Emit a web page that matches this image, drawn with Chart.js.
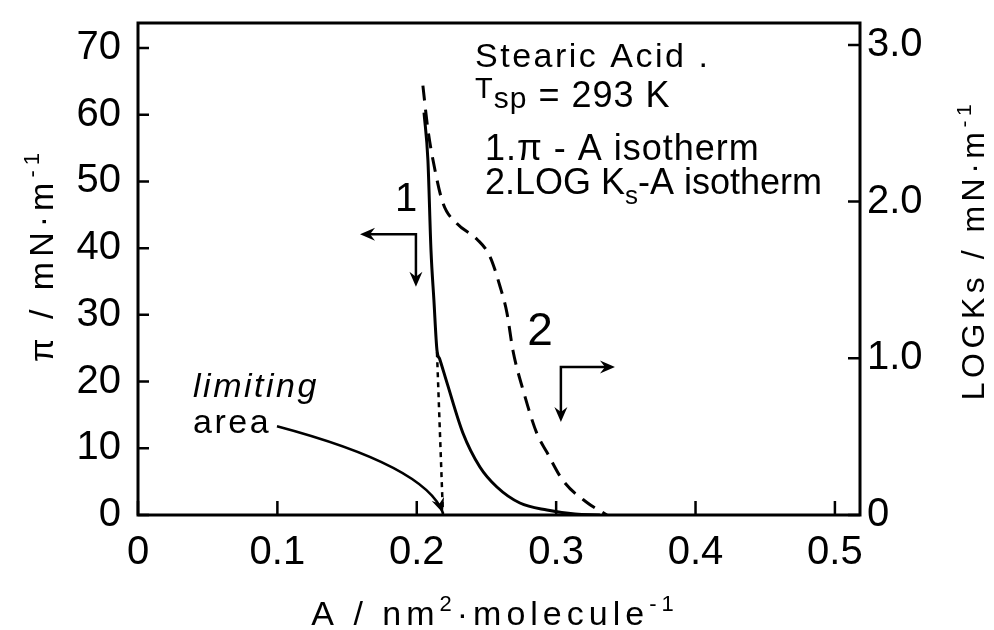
<!DOCTYPE html>
<html>
<head>
<meta charset="utf-8">
<script src="https://cdn.jsdelivr.net/npm/chart.js@4.4.1/dist/chart.umd.min.js"></script>
<style>
  html, body { margin: 0; padding: 0; background: #fff; }
  #wrap { width: 994px; height: 630px; }
</style>
</head>
<body>
<div id="wrap"><canvas id="isoChart" width="994" height="630"></canvas></div>
<script>
// Data
// curve 1: pi-A isotherm (left axis)
const areaPiA = [0.2052, 0.2080, 0.2102, 0.2123, 0.2145, 0.2165, 0.2217, 0.2331, 0.2453, 0.2575, 0.2740, 0.2934, 0.3135, 0.3314];
const surfacePressure = [60.3, 53.2, 39.7, 32.2, 24.7, 23.35, 19.8, 12.3, 7.2, 4.2, 1.8, 0.75, 0.15, 0];
// curve 2: log Ks-A isotherm (right axis)
const areaLogKs = [0.2044, 0.2080, 0.2131, 0.2188, 0.2288, 0.2432, 0.2525, 0.2597, 0.2647, 0.2690, 0.2762, 0.2862, 0.2934, 0.3049, 0.3221, 0.3364];
const logKs = [2.74, 2.46, 2.20, 1.99, 1.86, 1.76, 1.65, 1.46, 1.29, 1.05, 0.80, 0.52, 0.40, 0.22, 0.08, 0];
// extrapolation to the limiting area
const areaLimit = [0.2145, 0.2188];
const piLimit = [24.4, 0];

// Axis ticks
const areaTicks = [0, 0.1, 0.2, 0.3, 0.4, 0.5];
const areaTickLabels = ['0', '0.1', '0.2', '0.3', '0.4', '0.5'];
const piTicks = [0, 10, 20, 30, 40, 50, 60, 70];
const piTickLabels = ['0', '10', '20', '30', '40', '50', '60', '70'];
const logTicks = [0, 1, 2, 3];
const logTickLabels = ['0', '1.0', '2.0', '3.0'];

const FONT = "'Liberation Sans', Arial, sans-serif";

function toPoints(xs, ys) {
    return xs.map((x, i) => ({ x: x, y: ys[i] }));
}

function fontOf(p) {
    return (p[3] ? 'italic ' : '') + p[1] + 'px ' + FONT;
}

// text in pieces (for sub/superscripts): [text, size, dy, italic]
function richText(ctx, parts, x, y, align, spacing) {
    ctx.letterSpacing = (spacing || 0) + 'px';
    const widths = parts.map(p => { ctx.font = fontOf(p); return ctx.measureText(p[0]).width; });
    const total = widths.reduce((a, b) => a + b, 0);
    let cx = align === 'center' ? x - total / 2 : x;
    ctx.textAlign = 'left';
    ctx.textBaseline = 'alphabetic';
    parts.forEach((p, i) => {
        ctx.font = fontOf(p);
        ctx.fillText(p[0], cx, y + (p[2] || 0));
        cx += widths[i];
    });
    ctx.letterSpacing = '0px';
}

function arrowHead(ctx, x, y, angle) {
    ctx.save();
    ctx.translate(x, y);
    ctx.rotate(angle);
    ctx.beginPath();
    ctx.moveTo(0, 0);
    ctx.lineTo(-15, -6.5);
    ctx.lineTo(-10, 0);
    ctx.lineTo(-15, 6.5);
    ctx.closePath();
    ctx.fill();
    ctx.restore();
}

const decorPlugin = {
    id: 'decor',
    afterDraw(chart) {
        const ctx = chart.ctx;
        const a = chart.chartArea;
        const sx = chart.scales.x, sl = chart.scales.y, sr = chart.scales.y2;
        const X = v => sx.getPixelForValue(v);
        const YL = v => sl.getPixelForValue(v);
        const YR = v => sr.getPixelForValue(v);

        ctx.save();
        ctx.strokeStyle = '#000';
        ctx.fillStyle = '#000';

        // frame
        ctx.lineWidth = 3;
        ctx.strokeRect(a.left, a.top, a.right - a.left, a.bottom - a.top);

        // inward ticks
        ctx.lineWidth = 2.5;
        ctx.beginPath();
        areaTicks.forEach(v => { ctx.moveTo(X(v), a.bottom); ctx.lineTo(X(v), a.bottom - 14); });
        piTicks.forEach(v => { ctx.moveTo(a.left, YL(v)); ctx.lineTo(a.left + 11, YL(v)); });
        logTicks.forEach(v => { ctx.moveTo(a.right, YR(v)); ctx.lineTo(a.right - 12, YR(v)); });
        ctx.stroke();

        // axis titles
        richText(ctx, [['A / nm', 34], ['2', 22, -14], ['\u00b7molecule', 34], ['-1', 22, -14]], 495, 625, 'center', 5);

        ctx.save();
        ctx.translate(53, 255);
        ctx.rotate(-Math.PI / 2);
        richText(ctx, [['\u03c0 / mN\u00b7m', 34], ['-1', 22, -14]], 0, 0, 'center', 5);
        ctx.restore();

        ctx.save();
        ctx.translate(984, 250);
        ctx.rotate(-Math.PI / 2);
        richText(ctx, [['LOGKs / mN\u00b7m', 32], ['-1', 21, -13]], 0, 0, 'center', 4.5);
        ctx.restore();

        // legend block
        richText(ctx, [['Stearic Acid .', 34]], X(0.2418), YL(67.2), 'left', 2.5);
        richText(ctx, [['T', 29, -9], ['sp', 30, 1], [' = 293 K', 36]], X(0.2418), YL(61.2), 'left', 1);
        richText(ctx, [['1.\u03c0 - A isotherm', 36]], X(0.2489), YL(53.2), 'left', 1);
        richText(ctx, [['2.LOG K', 36], ['s', 26, 10], ['-A isotherm', 36]], X(0.2489), YL(48.1), 'left', 0);

        // curve labels
        ctx.font = '40px ' + FONT;
        ctx.textAlign = 'center';
        ctx.textBaseline = 'middle';
        ctx.fillText('1', X(0.1923), YL(47.2));
        ctx.font = '46px ' + FONT;
        ctx.fillText('2', X(0.2884), YR(1.168));

        // axis arrows
        ctx.lineWidth = 2.5;
        ctx.beginPath();
        ctx.moveTo(X(0.1593) + 8, YL(42.1));
        ctx.lineTo(X(0.1994), YL(42.1));
        ctx.lineTo(X(0.1994), YL(34.2) - 8);
        ctx.moveTo(X(0.3422) - 8, YR(0.944));
        ctx.lineTo(X(0.3034), YR(0.944));
        ctx.lineTo(X(0.3034), YR(0.593) - 8);
        ctx.stroke();
        arrowHead(ctx, X(0.1593), YL(42.1), Math.PI);
        arrowHead(ctx, X(0.1994), YL(34.2), Math.PI / 2);
        arrowHead(ctx, X(0.3422), YR(0.944), 0);
        arrowHead(ctx, X(0.3034), YR(0.593), Math.PI / 2);

        // limiting area
        richText(ctx, [['limiting', 34, 0, true]], X(0.0395), YL(17.7), 'left', 2.5);
        richText(ctx, [['area', 34]], X(0.0395), YL(12.3), 'left', 2.5);
        const p0 = [X(0.0997), YL(13.3)], pc = [X(0.2066), YL(7.35)], p1 = [X(0.2188), YL(0.3)];
        ctx.lineWidth = 2.5;
        ctx.beginPath();
        ctx.moveTo(p0[0], p0[1]);
        ctx.quadraticCurveTo(pc[0], pc[1], p1[0], p1[1]);
        ctx.stroke();
        arrowHead(ctx, p1[0], p1[1], Math.atan2(p1[1] - pc[1], p1[0] - pc[0]));

        ctx.restore();
    }
};

// y labels: tiny line height so the label box does not push the plot area down
const xTickFont = { family: FONT, size: 40, lineHeight: 1 };
const yTickFont = { family: FONT, size: 40, lineHeight: 0.2 };

new Chart(document.getElementById('isoChart'), {
    type: 'line',
    data: {
        datasets: [
            {
                label: 'pi-A isotherm',
                data: toPoints(areaPiA, surfacePressure),
                yAxisID: 'y',
                borderColor: '#000',
                borderWidth: 3,
                pointRadius: 0,
                cubicInterpolationMode: 'monotone'
            },
            {
                label: 'LOG Ks-A isotherm',
                data: toPoints(areaLogKs, logKs),
                yAxisID: 'y2',
                borderColor: '#000',
                borderWidth: 3,
                borderDash: [15, 9],
                pointRadius: 0,
                cubicInterpolationMode: 'monotone'
            },
            {
                label: 'limiting area',
                data: toPoints(areaLimit, piLimit),
                yAxisID: 'y',
                borderColor: '#000',
                borderWidth: 2.5,
                borderDash: [5, 5],
                pointRadius: 0
            }
        ]
    },
    options: {
        responsive: false,
        devicePixelRatio: 1,
        animation: false,
        layout: { padding: { top: 23, left: 0, right: 0, bottom: 0 } },
        plugins: { legend: { display: false }, tooltip: { enabled: false } },
        scales: {
            x: {
                type: 'linear',
                position: 'bottom',
                min: 0,
                max: 0.518,
                afterBuildTicks: s => { s.ticks = areaTicks.map(v => ({ value: v })); },
                afterFit: s => { s.height = 115; },
                ticks: {
                    autoSkip: false,
                    maxRotation: 0,
                    padding: 18,
                    color: '#000',
                    font: xTickFont,
                    callback: (v, i) => areaTickLabels[i]
                },
                grid: { display: false, drawTicks: false },
                border: { display: false }
            },
            y: {
                position: 'left',
                min: 0,
                max: 73.75,
                afterBuildTicks: s => { s.ticks = piTicks.map(v => ({ value: v })); },
                afterFit: s => { s.width = 138; },
                ticks: {
                    padding: 17,
                    color: '#000',
                    font: yTickFont,
                    callback: (v, i) => piTickLabels[i]
                },
                grid: { display: false, drawTicks: false },
                border: { display: false }
            },
            y2: {
                position: 'right',
                min: 0,
                max: 3.14,
                afterBuildTicks: s => { s.ticks = logTicks.map(v => ({ value: v })); },
                afterFit: s => { s.width = 134; },
                ticks: {
                    padding: 7,
                    color: '#000',
                    font: yTickFont,
                    callback: (v, i) => logTickLabels[i]
                },
                grid: { display: false, drawTicks: false },
                border: { display: false }
            }
        }
    },
    plugins: [decorPlugin]
});
</script>
</body>
</html>
